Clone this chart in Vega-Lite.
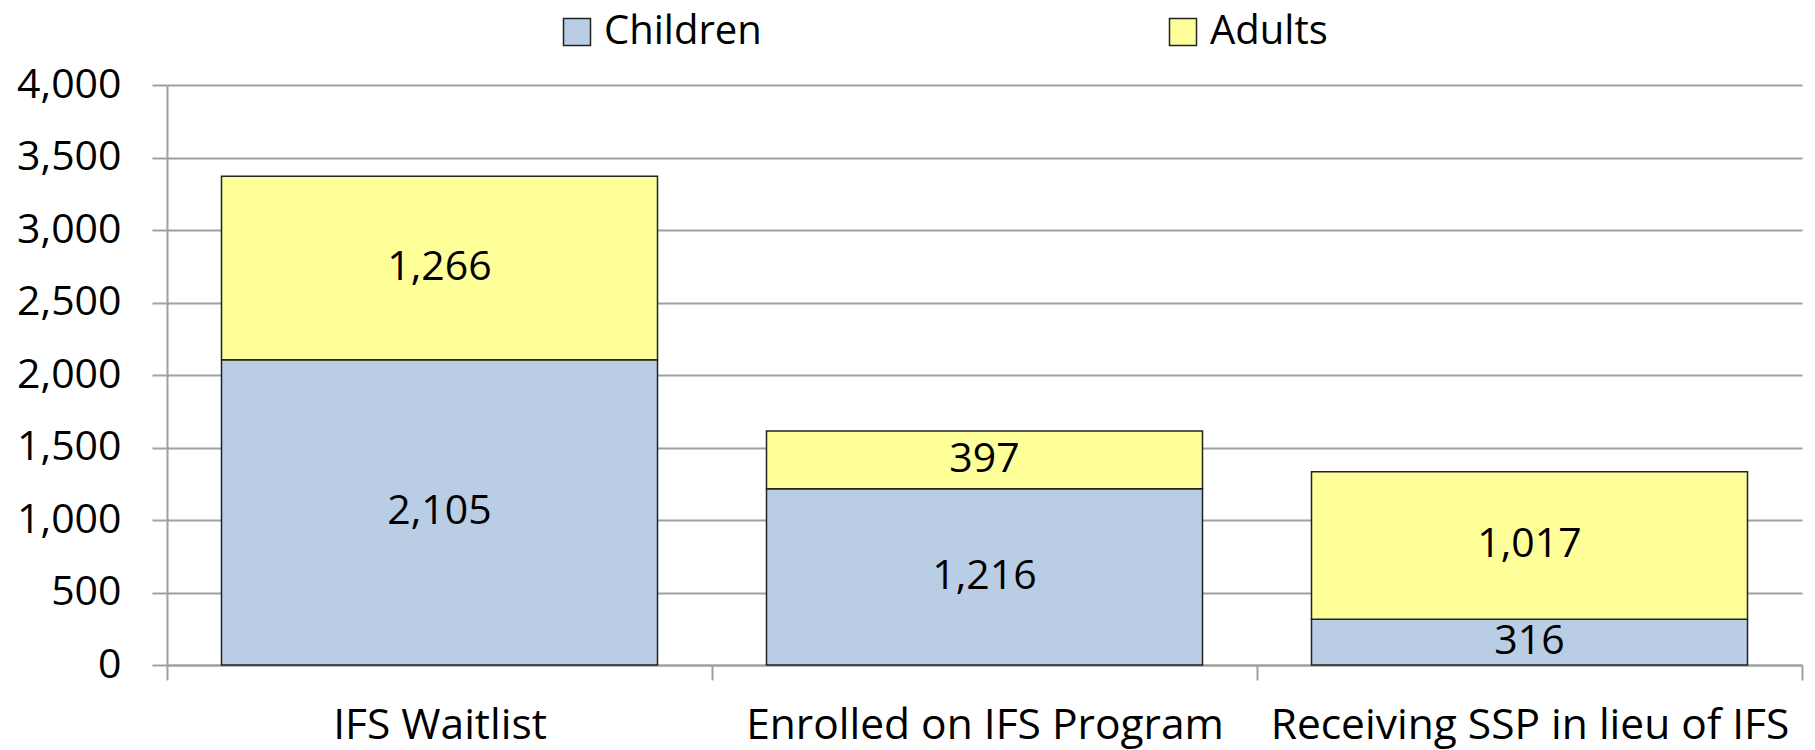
{
  "$schema": "https://vega.github.io/schema/vega-lite/v6.json",
  "width": 1635,
  "height": 580,
  "autosize": {"type": "none"},
  "padding": {"left": 167, "top": 85, "right": 13, "bottom": 85},
  "background": "#ffffff",
  "config": {"font": "Open Sans", "view": {"stroke": null}},
  "data": {
    "values": [
      {"cat": "IFS Waitlist", "group": "Children", "k": 1, "value": 2105},
      {"cat": "IFS Waitlist", "group": "Adults", "k": 2, "value": 1266},
      {"cat": "Enrolled on IFS Program", "group": "Children", "k": 1, "value": 1216},
      {"cat": "Enrolled on IFS Program", "group": "Adults", "k": 2, "value": 397},
      {"cat": "Receiving SSP in lieu of IFS", "group": "Children", "k": 1, "value": 316},
      {"cat": "Receiving SSP in lieu of IFS", "group": "Adults", "k": 2, "value": 1017}
    ]
  },
  "transform": [
    {"stack": "value", "groupby": ["cat"], "sort": [{"field": "k"}], "as": ["v0", "v1"]},
    {"calculate": "(datum.v0 + datum.v1) / 2", "as": "mid"}
  ],
  "encoding": {
    "x": {
      "field": "cat",
      "type": "nominal",
      "sort": null,
      "scale": {"paddingInner": 0, "paddingOuter": 0},
      "axis": {
        "title": null,
        "labelAngle": 0,
        "labelFontSize": 42.5,
        "labelColor": "#000000",
        "labelBaseline": "alphabetic",
        "labelPadding": 58,
        "labelLimit": 800,
        "tickBand": "extent",
        "tickSize": 15,
        "tickColor": "#A0A0A0",
        "tickWidth": 2,
        "domainColor": "#A0A0A0",
        "domainWidth": 2
      }
    }
  },
  "layer": [
    {
      "mark": {"type": "bar", "stroke": "#222222", "strokeWidth": 1.5, "width": {"band": 0.8}},
      "encoding": {
        "y": {
          "field": "v0",
          "type": "quantitative",
          "scale": {"domain": [0, 4000]},
          "axis": {
            "title": null,
            "values": [0, 500, 1000, 1500, 2000, 2500, 3000, 3500, 4000],
            "format": ",.0f",
            "labelFontSize": 41,
            "labelColor": "#000000",
            "labelPadding": 31,
            "tickSize": 15,
            "tickColor": "#A0A0A0",
            "tickWidth": 2,
            "domainColor": "#A0A0A0",
            "domainWidth": 2,
            "grid": true,
            "gridColor": "#A0A0A0",
            "gridWidth": 2
          }
        },
        "y2": {"field": "v1"},
        "color": {
          "field": "group",
          "type": "nominal",
          "scale": {"domain": ["Children", "Adults"], "range": ["#B9CDE5", "#FFFF99"]},
          "legend": {
            "title": null,
            "orient": "none",
            "legendX": 390,
            "legendY": -73,
            "direction": "horizontal",
            "symbolType": "square",
            "symbolSize": 729,
            "symbolStrokeColor": "#222222",
            "symbolStrokeWidth": 1.5,
            "symbolOpacity": 1,
            "labelFontSize": 40,
            "labelColor": "#000000",
            "labelOffset": 7,
            "labelLimit": 500,
            "columnPadding": 401
          }
        }
      }
    },
    {
      "mark": {"type": "text", "fontSize": 41, "color": "#000000"},
      "encoding": {
        "y": {"field": "mid", "type": "quantitative"},
        "text": {"field": "value", "type": "quantitative", "format": ","}
      }
    }
  ]
}
